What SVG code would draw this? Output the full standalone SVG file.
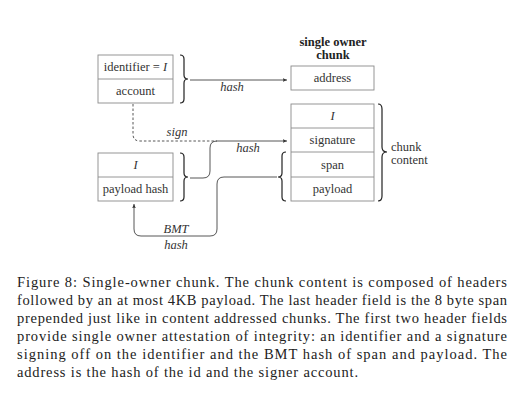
<svg xmlns="http://www.w3.org/2000/svg" width="520" height="400" viewBox="0 0 520 400">
<defs>
<marker id="ah" viewBox="0 0 8 8" refX="7" refY="4" markerWidth="5" markerHeight="5" orient="auto" markerUnits="userSpaceOnUse">
<path d="M0,1 L7,4 L0,7 L1.5,4 Z" fill="#333"/>
</marker>
<style>
.box{fill:#fff;stroke:#8a8a8a;stroke-width:0.9}
.t{font-family:"Liberation Serif",serif;font-size:12.5px;fill:#333;text-anchor:middle}
.i{font-style:italic}
.b{font-weight:bold;fill:#222}
.br{fill:none;stroke:#222;stroke-width:1.2}
.c{fill:none;stroke:#444;stroke-width:0.9}
.d{stroke-dasharray:2.5,2}
.cap{font-family:"Liberation Serif",serif;font-size:14.5px;fill:#222}
</style>
</defs>
<rect width="520" height="400" fill="#fff"/>

<g id="id-account">
<rect class="box" x="98" y="55" width="75" height="48"/>
<line class="box" x1="98" y1="79" x2="173" y2="79"/>
<text class="t" x="135.5" y="71">identifier = <tspan class="i">I</tspan></text>
<text class="t" x="135.5" y="95">account</text>
<path class="br" d="M180,55 Q184,55 184,59 L184,75 Q184,79 188,79 Q184,79 184,83 L184,99 Q184,103 180,103"/>
</g>

<g id="id-payloadhash">
<rect class="box" x="98" y="153" width="75" height="48"/>
<line class="box" x1="98" y1="177" x2="173" y2="177"/>
<text class="t i" x="135.5" y="169">I</text>
<text class="t" x="135.5" y="193">payload hash</text>
<path class="br" d="M180,153 Q184,153 184,157 L184,173 Q184,177 188,177 Q184,177 184,181 L184,197 Q184,201 180,201"/>
</g>

<g id="title">
<text class="t b" x="333" y="46">single owner</text>
<text class="t b" x="333" y="59">chunk</text>
</g>

<g id="address">
<rect class="box" x="291" y="66" width="83" height="24"/>
<text class="t" x="332.5" y="82">address</text>
</g>

<g id="chunk">
<rect class="box" x="291" y="104" width="83" height="97"/>
<line class="box" x1="291" y1="128" x2="374" y2="128"/>
<line class="box" x1="291" y1="152" x2="374" y2="152"/>
<line class="box" x1="291" y1="177" x2="374" y2="177"/>
<text class="t i" x="332.5" y="120">I</text>
<text class="t" x="332.5" y="144">signature</text>
<text class="t" x="332.5" y="169">span</text>
<text class="t" x="332.5" y="193">payload</text>
<path class="br" d="M378,104 Q382,104 382,109 L382,147 Q382,152 387,152 Q382,152 382,157 L382,196 Q382,201 378,201"/>
<text class="t" x="391" y="151" style="text-anchor:start">chunk</text>
<text class="t" x="391" y="164" style="text-anchor:start">content</text>
<path class="br" d="M286,152 Q282,152 282,156 L282,173 Q282,177 278,177 Q282,177 282,181 L282,197 Q282,201 286,201"/>
</g>

<g id="connectors">
<line class="c" x1="190" y1="80" x2="287" y2="80" marker-end="url(#ah)"/>
<path class="c d" d="M133,104 V134 Q133,141 140,141 H217"/>
<path class="c" d="M190,178 H203 Q210,178 210,171 V148 Q210,141 217,141 H287" marker-end="url(#ah)"/>
<path class="c" d="M277,177 H224 Q217,177 217,184 V229 Q217,236 210,236 H141 Q134,236 134,229 V204" marker-end="url(#ah)"/>
<text class="t i" x="232" y="91">hash</text>
<text class="t i" x="177" y="136">sign</text>
<text class="t i" x="248" y="152">hash</text>
<text class="t i" x="176" y="233">BMT</text>
<text class="t i" x="176" y="249">hash</text>
</g>

<g id="caption">
<text class="cap" x="17" y="287" textLength="490" lengthAdjust="spacing">Figure 8: Single-owner chunk. The chunk content is composed of headers</text>
<text class="cap" x="17" y="305" textLength="490" lengthAdjust="spacing">followed by an at most 4KB payload. The last header field is the 8 byte span</text>
<text class="cap" x="17" y="323" textLength="490" lengthAdjust="spacing">prepended just like in content addressed chunks. The first two header fields</text>
<text class="cap" x="17" y="341" textLength="490" lengthAdjust="spacing">provide single owner attestation of integrity: an identifier and a signature</text>
<text class="cap" x="17" y="359" textLength="490" lengthAdjust="spacing">signing off on the identifier and the BMT hash of span and payload. The</text>
<text class="cap" x="17" y="377" textLength="341" lengthAdjust="spacing">address is the hash of the id and the signer account.</text>
</g>
</svg>
